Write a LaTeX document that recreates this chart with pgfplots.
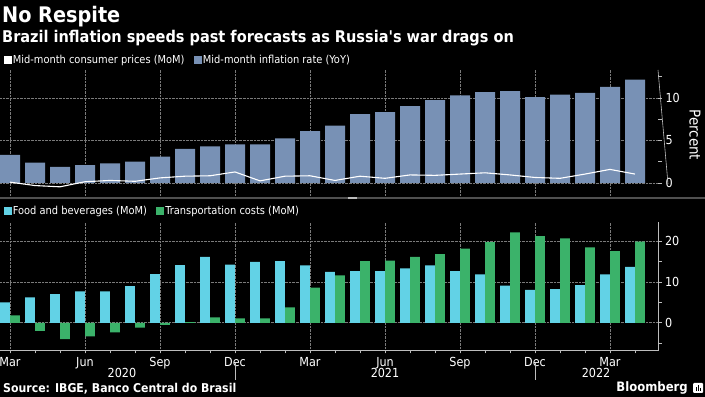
\documentclass[border=0pt]{standalone}
\usepackage{fontspec}
\setmainfont{DejaVu Sans Condensed}
\usepackage{pgfplots}
\pgfplotsset{compat=1.18}
\definecolor{yoy}{HTML}{7891B5}
\definecolor{food}{HTML}{62D2E6}
\definecolor{trans}{HTML}{3BB26A}
\definecolor{gridc}{HTML}{7A7A7A}
\definecolor{axc}{HTML}{BDBDBD}
\definecolor{sepc}{HTML}{505050}
\pgfplotsset{
  panel/.style={
    scale only axis, width=658bp, anchor=south west,
    xmin=-0.4, xmax=25.92,
    axis line style={draw=none},
    ytick pos=right, yticklabel pos=right, xtick pos=bottom,
    tick align=outside,
    major tick length=4bp, minor tick length=4bp,
    tick style={axc, line width=0.6pt},
    grid=major,
    major grid style={gridc, densely dotted, line width=0.6pt},
    tick label style={white, font=\fontsize{12.5}{12.5}\selectfont},
    /pgf/number format/assume math mode=true,
    clip=false,
    legend style={draw=none, fill=none, text=white, font=\fontsize{11}{11}\selectfont,
      at={(axis description cs:0,1)}, anchor=west, xshift=4bp,
      legend columns=-1, /tikz/every even column/.append style={column sep=8bp},
      inner sep=0pt, outer sep=0pt, nodes={inner sep=1.5bp}},
    legend cell align=left,
  },
  sq/.style={legend image code/.code={\fill[#1] (0bp,-3.5bp) rectangle (7bp,3.5bp);}},
}
\begin{document}
\begin{tikzpicture}
\fill[black] (0,0) rectangle (705bp,397bp);
\useasboundingbox (0,0) rectangle (705bp,397bp);
% titles
\node[anchor=base west, white, font=\bfseries\fontsize{21.5}{21.5}\selectfont, inner sep=0] at (2bp,374bp) {No Respite};
\node[anchor=base west, white, font=\bfseries\fontsize{16.2}{16.2}\selectfont, inner sep=0] at (2bp,354bp) {Brazil inflation speeds past forecasts as Russia\textquotesingle s war drags on};
% top panel
\begin{axis}[panel, at={(0bp,200bp)}, height=127bp,
  ymin=-1.647, ymax=13.294,
  xtick={0,3,...,24}, xticklabels={}, xtick style={draw=none},
  ytick={0,5,10}, minor ytick={2.5,7.5,12.5},
  legend style={yshift=10bp}]
\addlegendimage{sq=white}
\addlegendentry{Mid-month consumer prices (MoM)}
\addlegendimage{sq=yoy}
\addlegendentry{Mid-month inflation rate (YoY)}
\addplot[ybar, bar width=20bp, bar shift=0bp, fill=yoy, draw=none, forget plot] coordinates {
(0,3.3) (1,2.4) (2,1.9) (3,2.1) (4,2.3) (5,2.5) (6,3.1) (7,4.0) (8,4.3) (9,4.55)
(10,4.55) (11,5.25) (12,6.1) (13,6.75) (14,8.1) (15,8.35) (16,9.05) (17,9.75)
(18,10.3) (19,10.7) (20,10.8) (21,10.1) (22,10.4) (23,10.6) (24,11.3) (25,12.15)};
\addplot[white, line width=1.1bp, forget plot] coordinates {
(0,0.1) (1,-0.3) (2,-0.45) (3,0.15) (4,0.3) (5,0.2) (6,0.6) (7,0.8) (8,0.85) (9,1.3)
(10,0.25) (11,0.8) (12,0.85) (13,0.3) (14,0.8) (15,0.55) (16,0.95) (17,0.9)
(18,1.05) (19,1.2) (20,0.95) (21,0.65) (22,0.55) (23,1.05) (24,1.6) (25,1.05)};
\draw[axc, line width=0.6pt] (rel axis cs:1,0) ++(0,-1bp) -- (rel axis cs:1,1);
\end{axis}
% separator
\draw[sepc, line width=1.5bp] (0,199bp) -- (705bp,199bp);
\draw[axc, line width=1.5bp] (348bp,199bp) -- (357bp,199bp);
% bottom panel
\begin{axis}[panel, at={(0bp,47bp)}, height=128bp,
  ymin=-6.66, ymax=24.63,
  xtick={0,3,...,24}, xticklabels={Mar,Jun,Sep,Dec,Mar,Jun,Sep,Dec,Mar},
  minor xtick={0,...,25},
  ytick={0,10,20}, minor ytick={-5,5,15},
  major tick length=3.5bp, minor tick length=3.5bp,
  legend style={yshift=11bp}]
\addlegendimage{sq=food}
\addlegendentry{Food and beverages (MoM)}
\addlegendimage{sq=trans}
\addlegendentry{Transportation costs (MoM)}
\addplot[ybar, bar width=9.6bp, bar shift=-5bp, fill=food, draw=none, forget plot] coordinates {
(0,5.0) (1,6.2) (2,7.0) (3,7.7) (4,7.7) (5,8.95) (6,11.9) (7,14.1) (8,16.1) (9,14.2)
(10,14.9) (11,15.05) (12,14.0) (13,12.45) (14,12.6) (15,12.6) (16,13.3) (17,14.0)
(18,12.6) (19,11.8) (20,9.1) (21,8.05) (22,8.2) (23,9.2) (24,11.8) (25,13.65)};
\addplot[ybar, bar width=9.6bp, bar shift=5bp, fill=trans, draw=none, forget plot] coordinates {
(0,1.8) (1,-2.0) (2,-4.0) (3,-3.3) (4,-2.35) (5,-1.2) (6,-0.5) (7,0.15) (8,1.3) (9,1.05)
(10,1.1) (11,3.75) (12,8.6) (13,11.6) (14,15.05) (15,15.2) (16,16.1) (17,16.75)
(18,18.1) (19,19.7) (20,22.1) (21,21.15) (22,20.6) (23,18.45) (24,17.5) (25,19.85)};
\draw[axc, line width=0.6pt] (rel axis cs:0,0) -- (rel axis cs:1,0) -- (rel axis cs:1,1);
\end{axis}
% year labels
\begin{scope}[every node/.style={white, font=\fontsize{12.5}{12.5}\selectfont, inner sep=0}]
\node at (122bp,24bp) {2020};
\node at (385bp,24bp) {2021};
\node at (596bp,24bp) {2022};
\end{scope}
\draw[axc, line width=0.6pt] (235bp,34bp) -- (235bp,17bp);
\draw[axc, line width=0.6pt] (535bp,34bp) -- (535bp,17bp);
\node[rotate=-90, white, font=\fontsize{15}{15}\selectfont, inner sep=0] at (695bp,262bp) {Percent};
% footer
\node[anchor=west, white, font=\bfseries\fontsize{12.2}{12.2}\selectfont, inner sep=0] at (3bp,8bp) {Source: IBGE, Banco Central do Brasil};
\node[anchor=east, white, font=\bfseries\fontsize{13}{13}\selectfont, inner sep=0] at (688bp,9bp) {Bloomberg};
\fill[white, rounded corners=1bp] (693bp,4bp) rectangle (703bp,14bp);
\fill[black] (695.5bp,6bp) rectangle (696.5bp,10bp);
\fill[black] (697.5bp,6bp) rectangle (698.5bp,12bp);
\fill[black] (699.5bp,6bp) rectangle (700.5bp,9bp);
\end{tikzpicture}
\end{document}
